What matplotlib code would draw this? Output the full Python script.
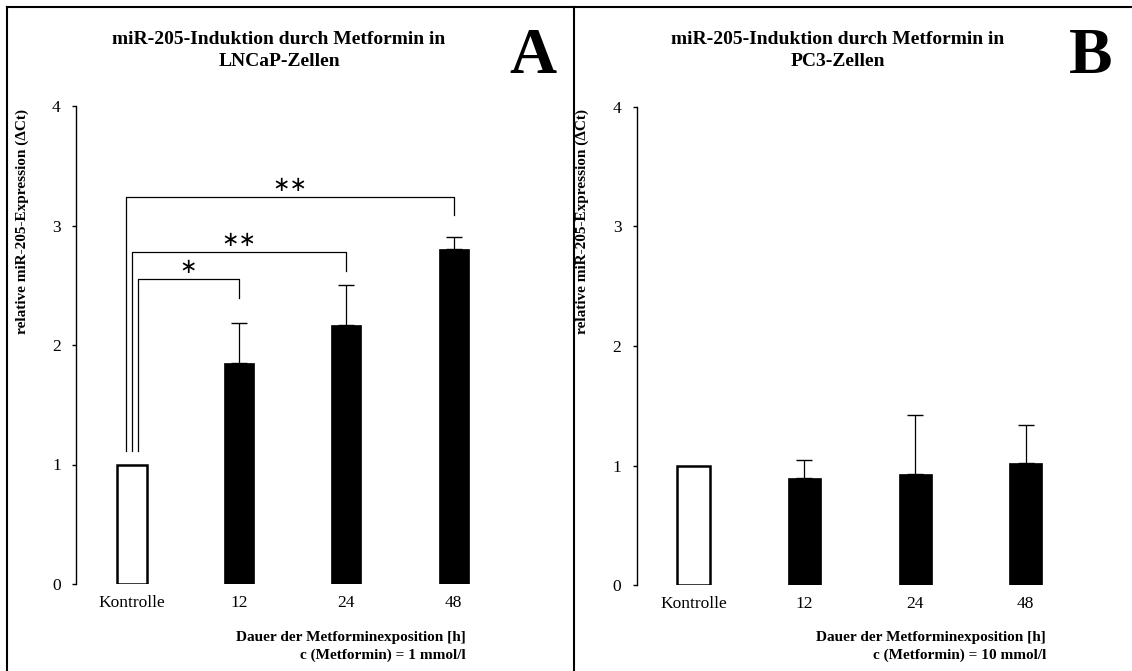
import matplotlib
matplotlib.use("Agg")
import matplotlib.pyplot as plt
from matplotlib.lines import Line2D

plt.rcParams['font.family'] = ['Liberation Serif', 'DejaVu Sans']

W, H = 1132, 671

categories = ["Kontrolle", "12", "24", "48"]

# LNCaP, 1 mmol/l
lncap_mean = [1.0, 1.85, 2.17, 2.80]
lncap_sd = [0.0, 0.33, 0.33, 0.10]
# PC3, 10 mmol/l
pc3_mean = [1.0, 0.90, 0.93, 1.02]
pc3_sd = [0.0, 0.15, 0.49, 0.32]

# significance brackets for LNCaP: (target bar, bracket height, right end, left offset, label)
sig_target = [3, 2, 1]
sig_height = [3.24, 2.78, 2.55]
sig_drop = [3.085, 2.62, 2.39]
sig_left = [-0.055, 0.0, 0.055]
sig_label = ["∗∗", "∗∗", "∗"]
sig_bottom = 1.115


def fx(x):
    return x / W


def fy(y):
    return 1 - y / H


def draw_panel(rect, means, sds, barw):
    ax = fig.add_axes(rect)
    x = list(range(len(categories)))
    ax.bar(x[:1], means[:1], width=barw, color='white', edgecolor='black', linewidth=1.8, zorder=3)
    ax.bar(x[1:], means[1:], width=barw, color='black', edgecolor='black', linewidth=0.5, zorder=3)
    ax.errorbar(x[1:], means[1:], yerr=[[0] * 3, sds[1:]], fmt='none', ecolor='black',
                elinewidth=0.9, capsize=5.5, capthick=1.0, zorder=2)
    ax.set_ylim(0, 4)
    ax.set_yticks([0, 1, 2, 3, 4])
    ax.set_xticks(x)
    ax.set_xticklabels(categories, fontsize=12.5)
    for s in ['top', 'right', 'bottom']:
        ax.spines[s].set_visible(False)
    ax.spines['left'].set_linewidth(1.0)
    ax.tick_params(axis='y', direction='out', length=3, width=1.0, pad=8, labelsize=12.5)
    ax.tick_params(axis='x', length=0, pad=8)
    return ax


fig = plt.figure(figsize=(W / 100, H / 100), dpi=100)

# panel A
axA = draw_panel([fx(76), fy(584), 452.8 / W, 478 / H], lncap_mean, lncap_sd, 0.28)
axA.set_xlim(-0.52, 3.7)
for t, h, d, off, lab in zip(sig_target, sig_height, sig_drop, sig_left, sig_label):
    axA.plot([off, off, t, t], [sig_bottom, h, h, d], color='black', lw=0.9, zorder=4)
    axA.text((off + t) / 2, h + 0.1, lab, ha='center', va='center', fontsize=15,
             family='DejaVu Sans')

# panel B
axB = draw_panel([fx(636.7), fy(585.3), 466.6 / W, 478.6 / H], pc3_mean, pc3_sd, 0.30)
axB.set_xlim(-0.515, 3.7)

# titles, letters, labels
title_kw = dict(ha='center', va='center', fontsize=14, fontweight='bold')
fig.text(fx(279), fy(40), "miR-205-Induktion durch Metformin in", **title_kw)
fig.text(fx(279), fy(62), "LNCaP-Zellen", **title_kw)
fig.text(fx(838), fy(40), "miR-205-Induktion durch Metformin in", **title_kw)
fig.text(fx(838), fy(62), "PC3-Zellen", **title_kw)
fig.text(fx(533), fy(57), "A", ha='center', va='center', fontsize=47, fontweight='bold')
fig.text(fx(1091), fy(57), "B", ha='center', va='center', fontsize=47, fontweight='bold')

ylab = "relative miR-205-Expression (ΔCt)"
fig.text(fx(22), fy(221), ylab, rotation=90, ha='center', va='center', fontsize=11, fontweight='bold')
fig.text(fx(582), fy(221), ylab, rotation=90, ha='center', va='center', fontsize=11, fontweight='bold')

xl_kw = dict(ha='right', va='center', fontsize=11, fontweight='bold')
fig.text(fx(466), fy(637), "Dauer der Metforminexposition [h]", **xl_kw)
fig.text(fx(466), fy(655), "c (Metformin) = 1 mmol/l", **xl_kw)
fig.text(fx(1046), fy(637), "Dauer der Metforminexposition [h]", **xl_kw)
fig.text(fx(1046), fy(655), "c (Metformin) = 10 mmol/l", **xl_kw)

# panel frames
frame_kw = dict(color='black', lw=1.5, transform=fig.transFigure)
fig.add_artist(Line2D([fx(7), fx(7)], [fy(7), 0], **frame_kw))
fig.add_artist(Line2D([fx(7), 1], [fy(7), fy(7)], **frame_kw))
fig.add_artist(Line2D([fx(574), fx(574)], [fy(7), 0], **frame_kw))

fig.savefig("out.png", dpi=100)
